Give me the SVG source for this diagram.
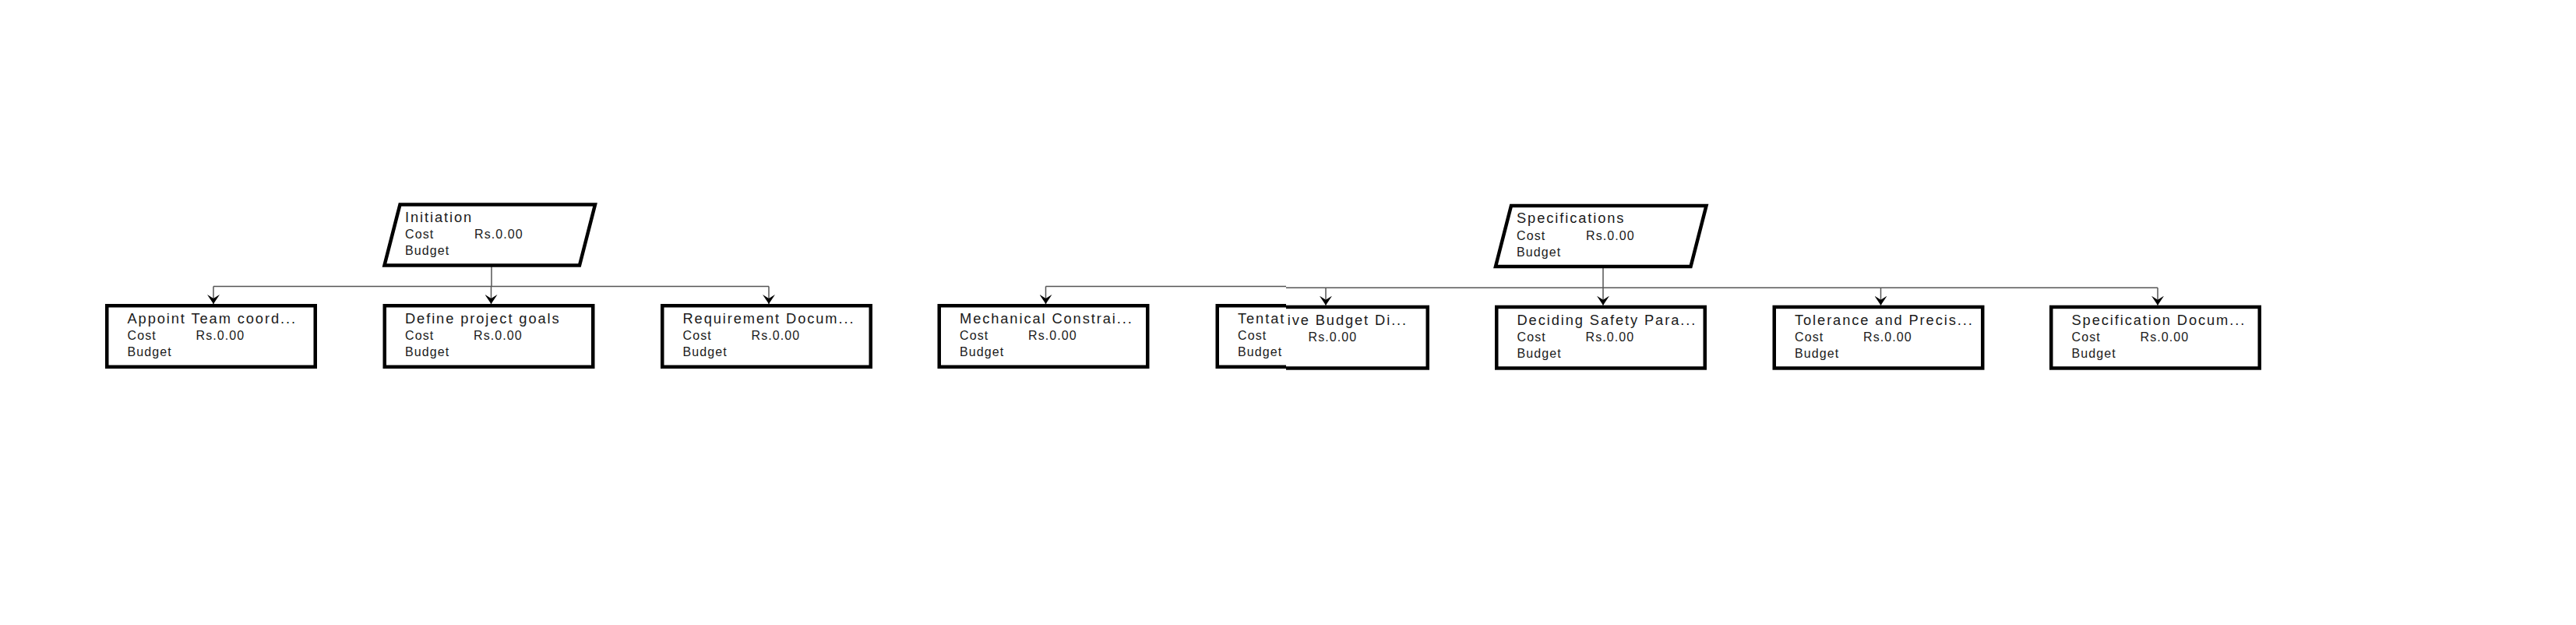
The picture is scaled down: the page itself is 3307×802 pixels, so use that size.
<svg xmlns="http://www.w3.org/2000/svg" width="3307" height="802" viewBox="0 0 3307 802">
<style>
.box{fill:#fff;stroke:#000;stroke-width:4.5}
.para{fill:#fff;stroke:#000;stroke-width:4.5;stroke-linejoin:miter}
.title{font-family:"Liberation Sans",Arial,sans-serif;font-size:18.3px;letter-spacing:1.9px;fill:#1a1a1a}
.small{font-family:"Liberation Sans",Arial,sans-serif;font-size:16px;letter-spacing:1.1px;fill:#1a1a1a}
.conn{fill:none;stroke:#555;stroke-width:1.5}
.drop{fill:none;stroke:#555;stroke-width:1.5;marker-end:url(#arrow)}
</style>
<defs>
<marker id="arrow" viewBox="0 0 12 16" refX="12" refY="8" markerWidth="12" markerHeight="16" markerUnits="userSpaceOnUse" orient="auto">
<path d="M0,0 L12,8 L0,16 L5,8 Z" fill="#000"/>
</marker>
<clipPath id="clipL" clipPathUnits="userSpaceOnUse"><rect x="0" y="0" width="1651" height="802"/></clipPath>
<clipPath id="clipR" clipPathUnits="userSpaceOnUse"><rect x="1651" y="0" width="1656" height="802"/></clipPath>
</defs>
<rect x="0" y="0" width="3307" height="802" fill="#fff"/>

<g id="connectors">
<path class="conn" d="M631,342 V367.5"/>
<path class="conn" d="M274,367.5 H987"/>
<path class="drop" d="M274,367.5 V390"/>
<path class="drop" d="M630.5,367.5 V390"/>
<path class="drop" d="M987,367.5 V390"/>
<path class="conn" d="M2058,343.5 V369.2"/>
<path class="conn" d="M1342.5,367.5 H1651"/>
<path class="conn" d="M1651,369.2 H2770"/>
<path class="drop" d="M1342.5,367.5 V390"/>
<path class="drop" d="M1702,369.2 V391.7"/>
<path class="drop" d="M2058,369.2 V391.7"/>
<path class="drop" d="M2414.5,369.2 V391.7"/>
<path class="drop" d="M2770,369.2 V391.7"/>
</g>

<g id="node-initiation">
<polygon class="para" points="513.5,262.5 764,262.5 744,340.5 493.5,340.5"/>
<text class="title" x="520" y="284.5">Initiation</text>
<text class="small" x="520" y="306">Cost</text>
<text class="small" x="609" y="306">Rs.0.00</text>
<text class="small" x="520" y="327">Budget</text>
</g>

<g id="node-appoint">
<rect class="box" x="137.25" y="392.25" width="267.5" height="78.5"/>
<text class="title" x="163.5" y="415">Appoint Team coord...</text>
<text class="small" x="163.5" y="436">Cost</text>
<text class="small" x="251.5" y="436">Rs.0.00</text>
<text class="small" x="163.5" y="457">Budget</text>
</g>

<g id="node-define">
<rect class="box" x="493.75" y="392.25" width="267.5" height="78.5"/>
<text class="title" x="520" y="415">Define project goals</text>
<text class="small" x="520" y="436">Cost</text>
<text class="small" x="608" y="436">Rs.0.00</text>
<text class="small" x="520" y="457">Budget</text>
</g>

<g id="node-requirement">
<rect class="box" x="850.25" y="392.25" width="267.5" height="78.5"/>
<text class="title" x="876.5" y="415">Requirement Docum...</text>
<text class="small" x="876.5" y="436">Cost</text>
<text class="small" x="964.5" y="436">Rs.0.00</text>
<text class="small" x="876.5" y="457">Budget</text>
</g>

<g id="node-specifications">
<polygon class="para" points="1940,264 2190.5,264 2170.5,342 1920,342"/>
<text class="title" x="1947" y="286">Specifications</text>
<text class="small" x="1947" y="307.5">Cost</text>
<text class="small" x="2036" y="307.5">Rs.0.00</text>
<text class="small" x="1947" y="328.5">Budget</text>
</g>

<g id="node-mechanical">
<rect class="box" x="1205.75" y="392.25" width="267.5" height="78.5"/>
<text class="title" x="1232" y="415">Mechanical Constrai...</text>
<text class="small" x="1232" y="436">Cost</text>
<text class="small" x="1320" y="436">Rs.0.00</text>
<text class="small" x="1232" y="457">Budget</text>
</g>

<g id="node-tentative">
<g clip-path="url(#clipL)"><rect class="box" x="1562.75" y="392.25" width="267.5" height="78.5"/></g>
<g clip-path="url(#clipR)"><rect class="box" x="1565.25" y="393.95" width="267.5" height="78.5"/></g>
<text class="title" x="1589" y="415">Tentat<tspan dx="2.5" dy="1.7">ive Budget Di...</tspan></text>
<text class="small" x="1589" y="436">Cost</text>
<text class="small" x="1679.5" y="437.7">Rs.0.00</text>
<text class="small" x="1589" y="457">Budget</text>
</g>

<g id="node-deciding">
<rect class="box" x="1921.25" y="393.95" width="267.5" height="78.5"/>
<text class="title" x="1947.5" y="416.7">Deciding Safety Para...</text>
<text class="small" x="1947.5" y="437.7">Cost</text>
<text class="small" x="2035.5" y="437.7">Rs.0.00</text>
<text class="small" x="1947.5" y="458.7">Budget</text>
</g>

<g id="node-tolerance">
<rect class="box" x="2277.75" y="393.95" width="267.5" height="78.5"/>
<text class="title" x="2304" y="416.7">Tolerance and Precis...</text>
<text class="small" x="2304" y="437.7">Cost</text>
<text class="small" x="2392" y="437.7">Rs.0.00</text>
<text class="small" x="2304" y="458.7">Budget</text>
</g>

<g id="node-specdoc">
<rect class="box" x="2633.25" y="393.95" width="267.5" height="78.5"/>
<text class="title" x="2659.5" y="416.7">Specification Docum...</text>
<text class="small" x="2659.5" y="437.7">Cost</text>
<text class="small" x="2747.5" y="437.7">Rs.0.00</text>
<text class="small" x="2659.5" y="458.7">Budget</text>
</g>
</svg>
